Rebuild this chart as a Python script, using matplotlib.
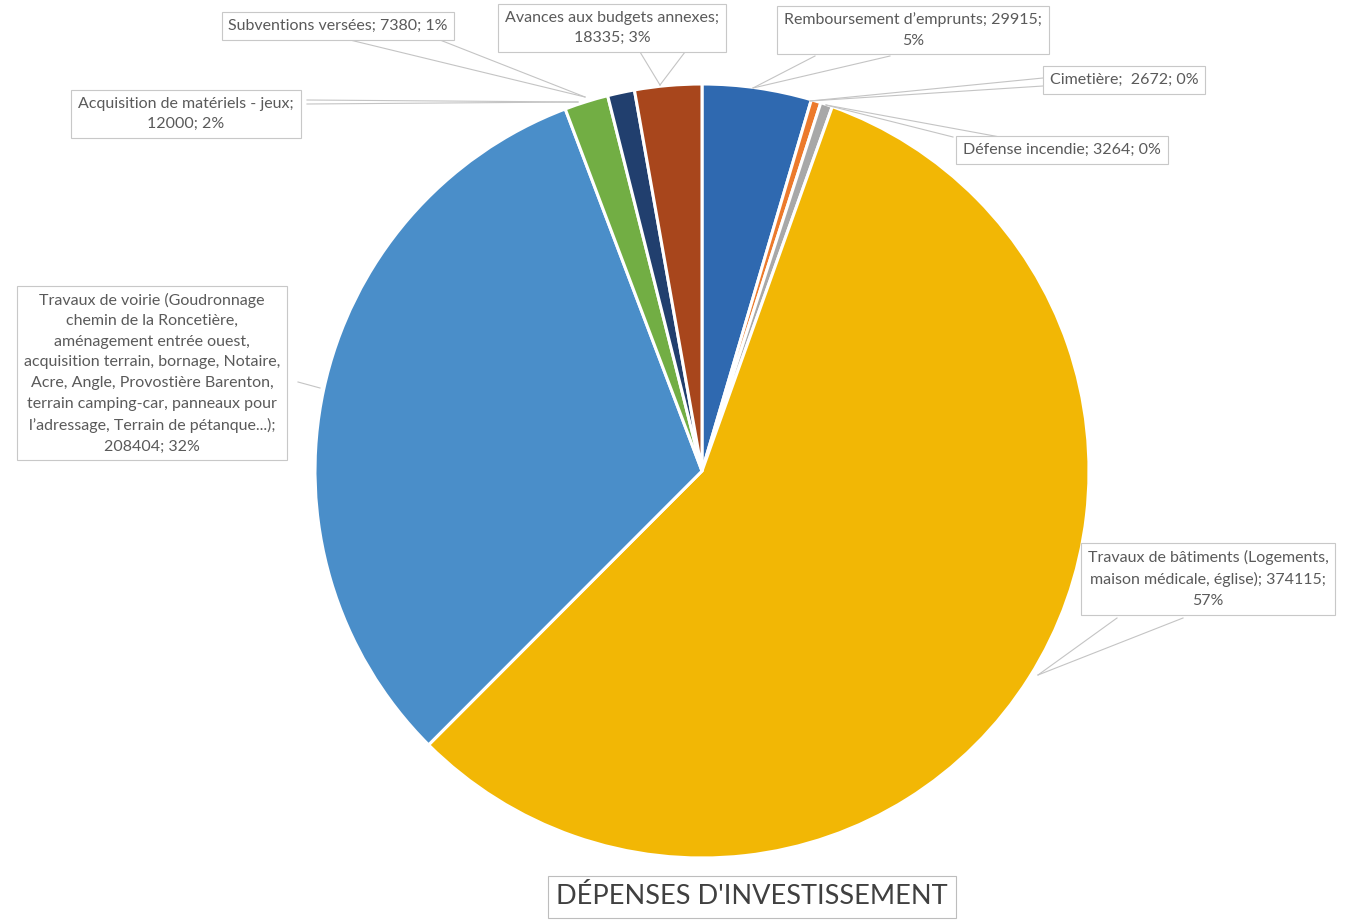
"""Dépenses d'investissement : camembert avec étiquettes encadrées"""
import matplotlib
matplotlib.use('Agg')
import matplotlib.pyplot as plt

plt.rcParams['font.family'] = ['Lato', 'DejaVu Sans']

W, H = 1346, 922

# postes de dépenses, dans l'ordre horaire à partir de midi
postes = [
    "Remboursement d\u2019emprunts",
    "Cimetière",
    "Défense incendie",
    "Travaux de bâtiments (Logements, maison médicale, église)",
    "Travaux de voirie (Goudronnage chemin de la Roncetière, aménagement entrée ouest, "
    "acquisition terrain, bornage, Notaire, Acre, Angle, Provostière Barenton, "
    "terrain camping-car, panneaux pour l\u2019adressage, Terrain de pétanque...)",
    "Acquisition de matériels - jeux",
    "Subventions versées",
    "Avances aux budgets annexes",
]
montants = [29915, 2672, 3264, 374115, 208404, 12000, 7380, 18335]
couleurs = ['#2f69b0', '#ec7a2c', '#a8a8a8', '#f2b705',
            '#4a8ec9', '#72ae44', '#213f6e', '#a8461c']

# texte des étiquettes, avec les retours à la ligne
etiquettes = [
    "Remboursement d\u2019emprunts; 29915;\n5%",
    "Cimetière;  2672; 0%",
    "Défense incendie; 3264; 0%",
    "Travaux de bâtiments (Logements,\nmaison médicale, église); 374115;\n57%",
    "Travaux de voirie (Goudronnage\nchemin de la Roncetière,\naménagement entrée ouest,\n"
    "acquisition terrain, bornage, Notaire,\nAcre, Angle, Provostière Barenton,\n"
    "terrain camping-car, panneaux pour\nl\u2019adressage, Terrain de pétanque...);\n208404; 32%",
    "Acquisition de matériels - jeux;\n12000; 2%",
    "Subventions versées; 7380; 1%",
    "Avances aux budgets annexes;\n18335; 3%",
]
titre = "DÉPENSES D'INVESTISSEMENT"

# position des étiquettes (pixels, origine en haut à gauche)
pos_etiq = [(913, 30), (1124, 80), (1062, 150), (1208, 579),
            (152, 373), (186, 114), (338, 26), (612, 28)]
# traits de rappel : points de départ sur la boîte -> point sur la part
rappels = [
    [((815, 56), (753, 88)), ((890, 56), (753, 88))],
    [((1043, 78), (810, 101)), ((1043, 86), (810, 101))],
    [((953, 137), (826, 105)), ((1000, 137), (826, 105))],
    [((1117, 618), (1038, 675)), ((1183, 618), (1038, 675))],
    [((298, 382), (320, 388))],
    [((307, 100), (578, 102)), ((307, 104), (578, 102))],
    [((350, 40), (585, 97)), ((440, 40), (585, 97))],
    [((640, 52), (660, 85)), ((685, 52), (660, 85))],
]

CX, CY, R = 702, 471, 387

fig = plt.figure(figsize=(W / 100, H / 100), dpi=100)
ax = fig.add_axes([0, 0, 1, 1])

ax.pie(montants, colors=couleurs, startangle=90, counterclock=False,
       center=(CX, H - CY), radius=R,
       wedgeprops=dict(edgecolor='white', linewidth=2.2))

for (lx, ly), txt, traits in zip(pos_etiq, etiquettes, rappels):
    for (x0, y0), (x1, y1) in traits:
        ax.plot([x0, x1], [H - y0, H - y1], color='#c4c4c4', lw=0.8, zorder=1)
    ax.text(lx, H - ly, txt, ha='center', va='center', fontsize=11.5,
            color='#5a5a5a', linespacing=1.6, zorder=3,
            bbox=dict(boxstyle='square,pad=0.42', facecolor='white',
                      edgecolor='#c8c8c8', linewidth=0.8))

ax.text(752, H - 897, titre, ha='center', va='center', fontsize=19.5,
        color='#404040',
        bbox=dict(boxstyle='square,pad=0.32', facecolor='white',
                  edgecolor='#bdbdbd', linewidth=0.8))

ax.set_xlim(0, W)
ax.set_ylim(0, H)
ax.set_aspect('equal')
ax.axis('off')

fig.savefig('out.png', dpi=100, facecolor='white')
